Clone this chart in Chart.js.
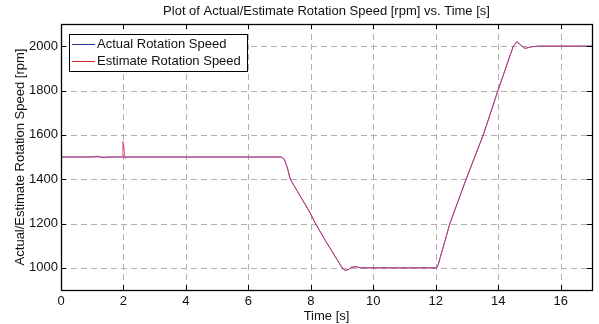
<!DOCTYPE html>
<html>
<head>
<meta charset="utf-8">
<script src="https://cdn.jsdelivr.net/npm/chart.js@4.4.1/dist/chart.umd.min.js"></script>
<style>
  html, body { margin: 0; padding: 0; background: #fff; }
  #wrap { width: 599px; height: 324px; }
</style>
</head>
<body>
<div id="wrap"><canvas id="speed-chart" width="599" height="324"></canvas></div>
<script>
// time [s] and speed [rpm]
const actualTime = [0, 1.0, 1.1, 1.2, 1.3, 1.4, 1.5, 7.05, 7.15, 7.25, 7.34, 7.98, 8.14, 8.46, 8.84, 9.0, 9.1, 9.2, 9.3, 9.45, 9.6,
                    12.02, 12.08, 12.15, 12.3, 12.45, 12.97, 13.52, 13.99, 14.48, 14.59, 14.7, 14.85, 15.0, 15.1, 15.3, 17];
const actualRpm  = [1500, 1500, 1503, 1503, 1498, 1497, 1500, 1500, 1490, 1450, 1400, 1247, 1202, 1124, 1037, 1000, 988, 992, 1003, 1005, 1000,
                    1000, 1015, 1052, 1125, 1200, 1400, 1600, 1800, 2000, 2020, 2008, 1990, 1995, 1998, 2000, 2000];

const estimateTime = [0, 1.975, 1.98, 2.02, 2.05, 2.08, 2.12, 3.0, 7.05, 7.15, 7.25, 7.34, 7.98, 8.14, 8.46, 8.84, 9.0, 9.1, 9.2, 9.3, 9.45, 9.6,
                      12.02, 12.08, 12.15, 12.3, 12.45, 12.97, 13.52, 13.99, 14.48, 14.59, 14.7, 14.85, 15.0, 15.1, 15.3, 17];
const estimateRpm  = [1500, 1500, 1570, 1540, 1495, 1497, 1500, 1500, 1500, 1490, 1450, 1400, 1247, 1202, 1124, 1037, 1000, 988, 992, 1003, 1005, 1000,
                      1000, 1015, 1052, 1125, 1200, 1400, 1600, 1800, 2000, 2020, 2008, 1990, 1995, 1998, 2000, 2000];

const xTicks = [0, 2, 4, 6, 8, 10, 12, 14, 16];
const yTicks = [1000, 1200, 1400, 1600, 1800, 2000];

const FONT = 'Liberation Sans, Arial, Helvetica, sans-serif';
const GRID = '#b0b0b0';

function toPoints(xs, ys) {
    return xs.map((x, i) => ({ x: x, y: ys[i] }));
}

// dashed grid, drawn under the lines
const gridPlugin = {
    id: 'dashGrid',
    beforeDatasetsDraw(chart) {
        const { ctx, chartArea: a, scales } = chart;
        ctx.save();
        ctx.strokeStyle = GRID;
        ctx.lineWidth = 1;
        ctx.setLineDash([6, 4]);
        ctx.beginPath();
        scales.x.ticks.forEach(t => {
            const px = Math.round(scales.x.getPixelForValue(t.value)) + 0.5;
            ctx.moveTo(px, a.top); ctx.lineTo(px, a.bottom);
        });
        scales.y.ticks.forEach(t => {
            const py = Math.round(scales.y.getPixelForValue(t.value)) + 0.5;
            ctx.moveTo(a.left, py); ctx.lineTo(a.right, py);
        });
        ctx.stroke();
        ctx.restore();
    }
};

// matlab style frame: black box with inward ticks on all four sides
const framePlugin = {
    id: 'frame',
    afterDatasetsDraw(chart) {
        const { ctx, chartArea: a, scales } = chart;
        const len = 5;
        ctx.save();
        ctx.strokeStyle = '#000';
        ctx.lineWidth = 1;
        ctx.beginPath();
        scales.x.ticks.forEach(t => {
            const px = Math.round(scales.x.getPixelForValue(t.value)) + 0.5;
            ctx.moveTo(px, a.bottom); ctx.lineTo(px, a.bottom - len);
            ctx.moveTo(px, a.top); ctx.lineTo(px, a.top + len);
        });
        scales.y.ticks.forEach(t => {
            const py = Math.round(scales.y.getPixelForValue(t.value)) + 0.5;
            ctx.moveTo(a.left, py); ctx.lineTo(a.left + len, py);
            ctx.moveTo(a.right, py); ctx.lineTo(a.right - len, py);
        });
        ctx.stroke();
        ctx.lineWidth = 1.3;
        ctx.strokeRect(Math.round(a.left) + 0.5, Math.round(a.top) + 0.5, Math.round(a.right - a.left), Math.round(a.bottom - a.top));
        ctx.restore();
    }
};

// boxed legend in the upper left corner of the plot
const legendPlugin = {
    id: 'boxLegend',
    afterDraw(chart) {
        const { ctx, chartArea: a } = chart;
        const sets = chart.data.datasets;
        const x0 = a.left + 8, y0 = a.top + 10;
        const rowH = 17;
        ctx.save();
        ctx.font = '13px ' + FONT;
        let w = 0;
        sets.forEach(d => { w = Math.max(w, ctx.measureText(d.label).width); });
        const boxW = 3 + 23 + 2 + w + 6;
        const boxH = rowH * sets.length + 3;
        ctx.fillStyle = '#fff';
        ctx.fillRect(x0, y0, boxW, boxH);
        ctx.strokeStyle = '#000';
        ctx.lineWidth = 1;
        ctx.strokeRect(Math.round(x0) + 0.5, Math.round(y0) + 0.5, Math.round(boxW), Math.round(boxH));
        sets.forEach((d, i) => {
            const cy = y0 + 10 + i * rowH;
            ctx.strokeStyle = d.legendColor;
            ctx.lineWidth = 1;
            ctx.beginPath();
            ctx.moveTo(x0 + 3, Math.round(cy) + 0.5);
            ctx.lineTo(x0 + 26, Math.round(cy) + 0.5);
            ctx.stroke();
            ctx.fillStyle = '#111';
            ctx.textBaseline = 'middle';
            ctx.fillText(d.label, x0 + 28, cy);
        });
        ctx.restore();
    }
};

window.addEventListener('load', function () {
    const ctx = document.getElementById('speed-chart').getContext('2d');

    new Chart(ctx, {
        type: 'line',
        data: {
            datasets: [{
                label: 'Actual Rotation Speed',
                data: toPoints(actualTime, actualRpm),
                borderColor: 'rgb(70, 80, 200)',
                legendColor: 'rgb(40, 50, 160)',
                borderWidth: 1,
                pointRadius: 0,
                tension: 0,
                order: 1
            }, {
                label: 'Estimate Rotation Speed',
                data: toPoints(estimateTime, estimateRpm),
                borderColor: 'rgba(228, 45, 85, 0.8)',
                legendColor: 'rgb(220, 30, 40)',
                borderWidth: 1,
                pointRadius: 0,
                tension: 0,
                order: 0
            }]
        },
        options: {
            responsive: false,
            animation: false,
            events: [],
            layout: { padding: { left: 0, right: 7, top: 0, bottom: 0 } },
            plugins: {
                legend: { display: false },
                tooltip: { enabled: false },
                title: {
                    display: true,
                    fullSize: false,
                    text: 'Plot of Actual/Estimate Rotation Speed [rpm] vs. Time [s]',
                    color: '#111',
                    font: { family: FONT, size: 13, weight: 'normal' },
                    padding: { top: 3.5, bottom: 4.9 }
                }
            },
            scales: {
                x: {
                    type: 'linear',
                    min: 0,
                    max: 17,
                    afterBuildTicks: s => { s.ticks = xTicks.map(v => ({ value: v })); },
                    afterFit: s => { s.height = 34; },
                    grid: { drawOnChartArea: false, drawTicks: false, color: 'rgba(0,0,0,0)' },
                    border: { display: false },
                    ticks: { color: '#111', padding: 4, maxRotation: 0, font: { family: FONT, size: 13 },
                             callback: v => String(v) },
                    title: {
                        display: true,
                        text: 'Time [s]',
                        color: '#111',
                        font: { family: FONT, size: 13 },
                        padding: { top: 5.5, bottom: 0 }
                    }
                },
                y: {
                    type: 'linear',
                    min: 900,
                    max: 2100,
                    afterBuildTicks: s => { s.ticks = yTicks.map(v => ({ value: v })); },
                    afterFit: s => { s.width = 61; },
                    grid: { drawOnChartArea: false, drawTicks: false, color: 'rgba(0,0,0,0)' },
                    border: { display: false },
                    ticks: { color: '#111', padding: 3, font: { family: FONT, size: 13 },
                             callback: v => String(v) },
                    title: {
                        display: true,
                        text: 'Actual/Estimate Rotation Speed [rpm]',
                        color: '#111',
                        font: { family: FONT, size: 13 },
                        padding: { top: 13, bottom: 0 }
                    }
                }
            }
        },
        plugins: [gridPlugin, framePlugin, legendPlugin]
    });
});
</script>
</body>
</html>
